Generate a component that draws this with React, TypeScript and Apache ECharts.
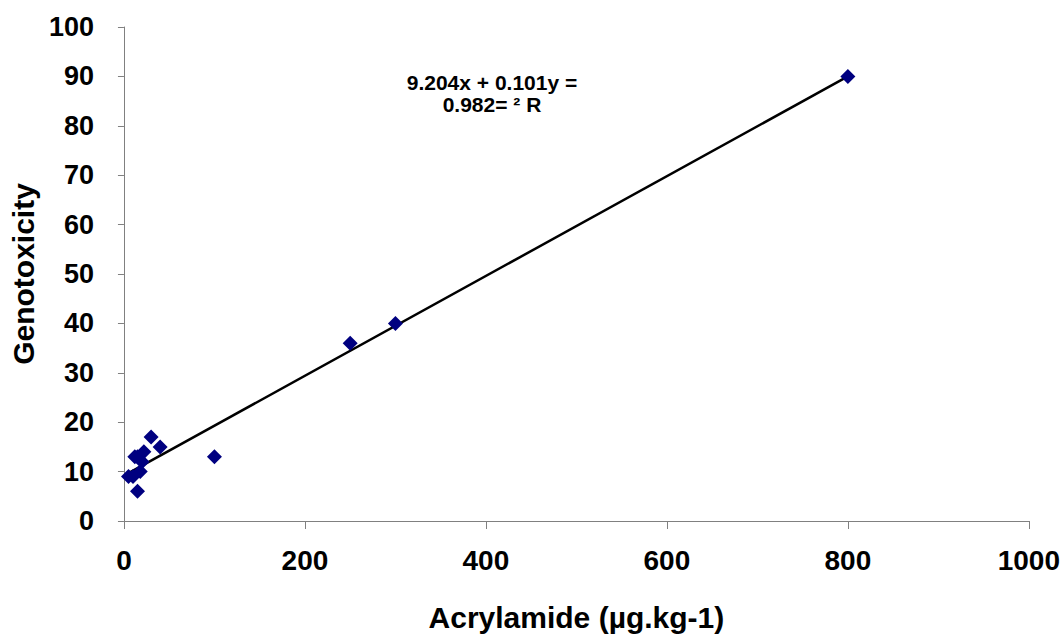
import React, { useEffect, useRef } from "react";
import * as echarts from "echarts";

const acrylamide = [5, 10, 12, 15, 15, 18, 20, 22, 30, 40, 100, 250, 300, 800];
const genotoxicity = [9, 9, 13, 13, 6, 10, 12, 14, 17, 15, 13, 36, 40, 90];
const trendSlope = 0.101;
const trendIntercept = 9.204;
const trendRange = [5, 800];
const equationLines = ["9.204x + 0.101y =", "0.982= ² R"];
const xTitle = "Acrylamide (µg.kg-1)";
const yTitle = "Genotoxicity";

export default function App() {
  const ref = useRef<HTMLDivElement>(null);
  useEffect(() => {
    if (!ref.current) return;
    const chart = echarts.init(ref.current, null, { renderer: "svg" });
    const font = "Arial, 'Liberation Sans', sans-serif";
    const axisLine = { show: true, lineStyle: { color: "#808080", width: 1 } };
    chart.setOption({
      animation: false,
      backgroundColor: "#fff",
      grid: { left: 123, right: 32, top: 27, bottom: 115 },
      xAxis: {
        type: "value",
        min: 0,
        max: 1000,
        interval: 200,
        name: xTitle,
        nameLocation: "middle",
        nameGap: 81,
        nameTextStyle: { fontFamily: font, fontWeight: "bold", fontSize: 30, color: "#000" },
        axisLine,
        axisTick: { show: true, length: 8, lineStyle: { color: "#808080" } },
        axisLabel: {
          fontFamily: font,
          fontWeight: "bold",
          fontSize: 28,
          color: "#000",
          margin: 25,
          formatter: (v: number) => String(v),
        },
        splitLine: { show: false },
      },
      yAxis: {
        type: "value",
        min: 0,
        max: 100,
        interval: 10,
        name: yTitle,
        nameLocation: "middle",
        nameGap: 83,
        nameTextStyle: { fontFamily: font, fontWeight: "bold", fontSize: 30, color: "#000" },
        axisLine,
        axisTick: { show: true, length: 6, lineStyle: { color: "#808080" } },
        axisLabel: { fontFamily: font, fontWeight: "bold", fontSize: 27, color: "#000", margin: 30 },
        splitLine: { show: false },
      },
      graphic: [
        {
          type: "text",
          x: 492,
          y: 93,
          style: {
            text: equationLines.join("\n"),
            font: `bold 21px ${font}`,
            fill: "#000",
            align: "center",
            verticalAlign: "middle",
            lineHeight: 22,
          },
        },
      ],
      series: [
        {
          type: "line",
          data: trendRange.map((x) => [x, trendIntercept + trendSlope * x]),
          symbol: "none",
          lineStyle: { color: "#000", width: 2.5 },
          silent: true,
          z: 1,
        },
        {
          type: "scatter",
          data: acrylamide.map((x, i) => [x, genotoxicity[i]]),
          symbol: "diamond",
          symbolSize: [15, 15],
          itemStyle: { color: "#000080", opacity: 1 },
          z: 2,
        },
      ],
    });
    return () => chart.dispose();
  }, []);
  return <div ref={ref} style={{ width: 1063, height: 637, position: "absolute", left: 0, top: 0 }} />;
}
